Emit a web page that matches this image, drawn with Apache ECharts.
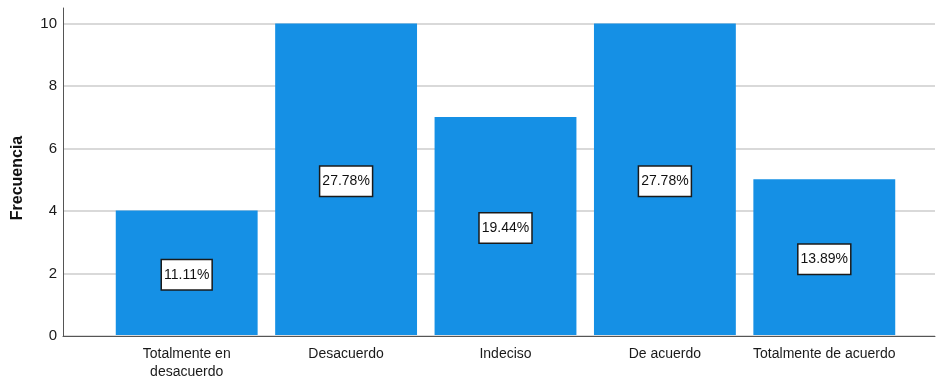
<!DOCTYPE html>
<html>
<head>
<meta charset="utf-8">
<script src="https://cdn.jsdelivr.net/npm/echarts@6/dist/echarts.min.js"></script>
<style>
  html, body { margin: 0; padding: 0; background: #fff; }
  #chart { width: 937px; height: 381px; }
</style>
</head>
<body>
<div id="chart"></div>
<script>
var categories = ['Totalmente en\ndesacuerdo', 'Desacuerdo', 'Indeciso', 'De acuerdo', 'Totalmente de acuerdo'];
var counts = [4, 10, 7, 10, 5];
var percents = ['11.11%', '27.78%', '19.44%', '27.78%', '13.89%'];
var yTicks = [0, 2, 4, 6, 8, 10];

var font = 'Liberation Sans, Arial, sans-serif';
var myChart = echarts.init(document.getElementById('chart'));

var option = {
    backgroundColor: '#fff',
    animation: false,
    grid: [
        // frame: y axis, grid lines, x axis line
        { left: 63, right: 2, top: 8, bottom: 45 },
        // bars
        { left: 107, right: 33, top: 8, bottom: 45 }
    ],
    xAxis: [
        {
            gridIndex: 0, type: 'value', min: 0, max: 1,
            axisLine: { show: true, onZero: false, lineStyle: { color: '#555', width: 1 } },
            axisTick: { show: false }, axisLabel: { show: false }, splitLine: { show: false }
        },
        {
            gridIndex: 1, type: 'category', data: categories,
            axisLine: { show: false }, axisTick: { show: false },
            axisLabel: { color: '#1a1a1a', fontFamily: font, fontSize: 14, margin: 10, lineHeight: 18, interval: 0 }
        }
    ],
    yAxis: [
        {
            gridIndex: 0, type: 'value', min: 0, max: 10.5, interval: 2,
            name: 'Frecuencia', nameLocation: 'middle', nameGap: 37,
            nameTextStyle: { fontFamily: font, fontWeight: 'bold', fontSize: 16, color: '#111', padding: [0, 12, 0, 0] },
            axisLine: { show: true, lineStyle: { color: '#555', width: 1 } },
            axisTick: { show: false },
            axisLabel: {
                color: '#1a1a1a', fontFamily: font, fontSize: 15, margin: 6,
                formatter: function (v) { return yTicks.indexOf(v) >= 0 ? String(v) : ''; }
            },
            splitLine: { show: true, showMaxLine: false, lineStyle: { color: '#d9d9d9', width: 2 } }
        },
        {
            gridIndex: 1, type: 'value', min: 0, max: 10.5,
            show: false
        }
    ],
    series: [
        {
            type: 'bar',
            xAxisIndex: 1,
            yAxisIndex: 1,
            data: counts,
            barWidth: '89%',
            itemStyle: { color: '#1590e5' },
            label: {
                show: true,
                position: 'inside',
                offset: [0, 2],
                formatter: function (p) { return percents[p.dataIndex]; },
                color: '#111',
                fontFamily: font,
                fontSize: 14,
                lineHeight: 14,
                backgroundColor: '#fff',
                borderColor: '#1a1a1a',
                borderWidth: 1.5,
                padding: [8, 2, 7, 2]
            }
        }
    ]
};
myChart.setOption(option);
</script>
</body>
</html>
